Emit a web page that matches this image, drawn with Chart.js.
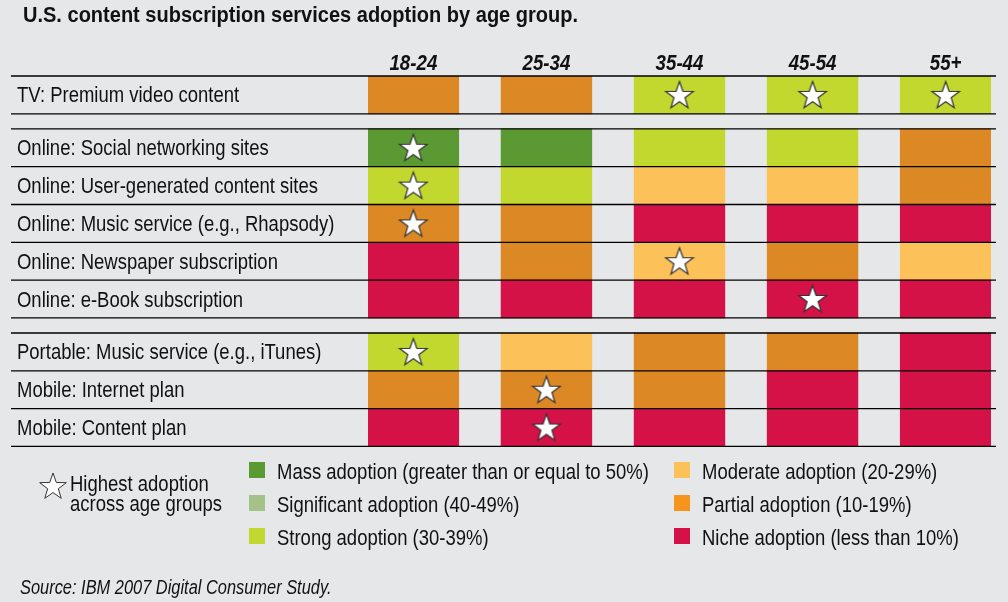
<!DOCTYPE html>
<html>
<head>
<meta charset="utf-8">
<script src="https://cdn.jsdelivr.net/npm/chart.js@4.4.1/dist/chart.umd.min.js"></script>
<style>
    body { margin: 0; background: #e6e7e9; }
    #wrap { position: relative; width: 1008px; height: 602px; overflow: hidden;
            font-family: 'Liberation Sans', Arial, sans-serif; color: #111; }
    #chart { position: absolute; left: 0; top: 0; }
    .txt { position: absolute; white-space: nowrap; font-size: 22px; line-height: 20px;
           transform: scaleX(0.84); transform-origin: 0 0; }
    .sw { position: absolute; width: 16px; height: 16px; }
    #titolo { position: absolute; left: 23px; top: 3px; font-size: 22px; line-height: 24px; font-weight: bold;
              white-space: nowrap; transform: scaleX(0.91); transform-origin: 0 0; }
    #fonte { position: absolute; left: 20px; top: 577px; font-size: 20px; line-height: 20px; font-style: italic;
             white-space: nowrap; transform: scaleX(0.82); transform-origin: 0 0; }
    #stellaLeg { position: absolute; left: 37px; top: 470px; }
</style>
</head>
<body>
<div id="wrap">
    <canvas id="chart" width="1008" height="602"></canvas>
    <div id="titolo">U.S. content subscription services adoption by age group.</div>
    <canvas id="stellaLeg" width="32" height="32"></canvas>
    <div class="txt" style="left:70px; top:474px;">Highest adoption</div>
    <div class="txt" style="left:70px; top:494px;">across age groups</div>
    <div id="legenda"></div>
    <div id="fonte">Source: IBM 2007 Digital Consumer Study.</div>
</div>
<script>
const FONT = "'Liberation Sans', Arial, sans-serif"

// dati
const ageGroups = ['18-24', '25-34', '35-44', '45-54', '55+']

const services = [
    'TV: Premium video content',
    'Online: Social networking sites',
    'Online: User-generated content sites',
    'Online: Music service (e.g., Rhapsody)',
    'Online: Newspaper subscription',
    'Online: e-Book subscription',
    'Portable: Music service (e.g., iTunes)',
    'Mobile: Internet plan',
    'Mobile: Content plan'
]
// blocchi di righe separati da uno spazio
const sections = [0, 1, 1, 1, 1, 1, 2, 2, 2]

// livello di adozione per fascia d'eta (una voce per servizio)
const age1824 = ['partial', 'mass', 'strong', 'partial', 'niche', 'niche', 'strong', 'partial', 'niche']
const age2534 = ['partial', 'mass', 'strong', 'partial', 'partial', 'niche', 'moderate', 'partial', 'niche']
const age3544 = ['strong', 'strong', 'moderate', 'niche', 'moderate', 'niche', 'partial', 'partial', 'niche']
const age4554 = ['strong', 'strong', 'moderate', 'niche', 'partial', 'niche', 'partial', 'niche', 'niche']
const age55 = ['strong', 'partial', 'partial', 'niche', 'moderate', 'niche', 'niche', 'niche', 'niche']
const adoption = [age1824, age2534, age3544, age4554, age55]

// righe con la stella (adozione massima tra le fasce)
const star1824 = [1, 2, 3, 6]
const star2534 = [7, 8]
const star3544 = [0, 4]
const star4554 = [0, 5]
const star55 = [0]
const stars = [star1824, star2534, star3544, star4554, star55]

const levelKeys = ['mass', 'significant', 'strong', 'moderate', 'partial', 'niche']
const levelLabels = [
    'Mass adoption (greater than or equal to 50%)',
    'Significant adoption (40-49%)',
    'Strong adoption (30-39%)',
    'Moderate adoption (20-29%)',
    'Partial adoption (10-19%)',
    'Niche adoption (less than 10%)'
]

// stili
const cellColors = {
    mass: '#5b9a32', significant: '#a5c38b', strong: '#c3d82f',
    moderate: '#fdc15a', partial: '#db8825', niche: '#d41247'
}
const legendColors = {
    mass: '#5b9a32', significant: '#a3c28a', strong: '#c3d82f',
    moderate: '#fdc15a', partial: '#f7941e', niche: '#d41247'
}
const CELL_W = 0.682      // larghezza cella in unita di colonna
const GAP = 0.4           // spazio tra blocchi in unita di riga
const rowPos = services.map((s, r) => r + 0.5 + sections[r] * GAP)
const rowMax = services.length + sections[sections.length - 1] * GAP

// asse lineare con etichette strette (il font originale e' condensato)
class SqueezedLinear extends Chart.LinearScale {
    drawLabels(chartArea) {
        const s = this.options.squeeze || 1
        const dy = this.options.nudge || 0
        const ctx = this.ctx
        for (const item of this.getLabelItems(chartArea)) {
            const o = item.options
            const opts = { ...o, translation: [o.translation[0] / s, o.translation[1]] }
            ctx.save()
            ctx.scale(s, 1)
            Chart.helpers.renderText(ctx, item.label, 0, item.textOffset + dy, item.font, opts)
            ctx.restore()
        }
    }
}
SqueezedLinear.id = 'squeezedLinear'
SqueezedLinear.defaults = Chart.LinearScale.defaults
Chart.register(SqueezedLinear)

function disegnaStella(canvas, r, lw) {
    const ctx = canvas.getContext('2d')
    const cx = canvas.width / 2, cy = canvas.height / 2 + 1
    ctx.beginPath()
    for (let i = 0; i < 10; i++) {
        const rad = i % 2 === 0 ? r : r * 0.4
        const a = -Math.PI / 2 + i * Math.PI / 5
        const px = cx + rad * Math.cos(a), py = cy + rad * Math.sin(a)
        if (i === 0) ctx.moveTo(px, py); else ctx.lineTo(px, py)
    }
    ctx.closePath()
    ctx.fillStyle = '#ffffff'
    ctx.fill()
    ctx.lineWidth = lw
    ctx.strokeStyle = '#333333'
    ctx.stroke()
}

const starImg = document.createElement('canvas')
starImg.width = 32
starImg.height = 32
disegnaStella(starImg, 14.5, 1.2)
disegnaStella(document.getElementById('stellaLeg'), 14, 1)

// legenda colori
const legenda = document.getElementById('legenda')
levelKeys.forEach((k, i) => {
    const col = Math.floor(i / 3), riga = i % 3
    const sx = col === 0 ? 249 : 674
    const sy = 462 + riga * 33
    const sw = document.createElement('div')
    sw.className = 'sw'
    sw.style.left = sx + 'px'
    sw.style.top = sy + 'px'
    sw.style.background = legendColors[k]
    legenda.appendChild(sw)
    const t = document.createElement('div')
    t.className = 'txt'
    t.style.left = (sx + 28) + 'px'
    t.style.top = sy + 'px'
    t.textContent = levelLabels[i]
    legenda.appendChild(t)
})

// linee di separazione tra le righe
const lineePlugin = {
    id: 'linee',
    afterDatasetsDraw(chart) {
        const y = chart.scales.y
        const ctx = chart.ctx
        const bordi = []
        rowPos.forEach(p => { bordi.push(p - 0.5); bordi.push(p + 0.5) })
        ctx.save()
        ctx.strokeStyle = '#000000'
        ctx.lineWidth = 1.3
        ;[...new Set(bordi.map(b => b.toFixed(3)))].forEach(b => {
            const py = y.getPixelForValue(parseFloat(b))
            ctx.beginPath()
            ctx.moveTo(11, py)
            ctx.lineTo(996, py)
            ctx.stroke()
        })
        ctx.restore()
    }
}

const barDatasets = ageGroups.map((g, c) => ({
    label: g,
    data: services.map((s, r) => ({ x: [c, c + CELL_W], y: rowPos[r] })),
    backgroundColor: adoption[c].map(k => cellColors[k]),
    borderWidth: 0,
    grouped: false,
    barPercentage: 1,
    categoryPercentage: 1,
    order: 1
}))

const starDataset = {
    type: 'scatter',
    label: 'Highest adoption across age groups',
    data: stars.flatMap((righe, c) => righe.map(r => ({ x: c + CELL_W / 2, y: rowPos[r] }))),
    pointStyle: starImg,
    order: 0
}

function senzaPadding(ax) {
    ax.paddingTop = 0
    ax.paddingBottom = 0
    ax.paddingLeft = 0
    ax.paddingRight = 0
}

new Chart(document.getElementById('chart'), {
    type: 'bar',
    data: { datasets: [starDataset, ...barDatasets] },
    plugins: [lineePlugin],
    options: {
        responsive: false,
        animation: false,
        indexAxis: 'y',
        layout: { padding: { left: 17, right: 17, top: 46, bottom: 155.6 } },
        plugins: {
            legend: { display: false },
            tooltip: { enabled: false }
        },
        scales: {
            x: {
                type: 'squeezedLinear',
                squeeze: 0.85,
                position: 'top',
                offset: false,
                min: 0,
                max: ageGroups.length - 1 + CELL_W,
                grid: { display: false, drawTicks: false, offset: false },
                border: { display: false },
                afterBuildTicks: (ax) => { ax.ticks = ageGroups.map((g, c) => ({ value: c + CELL_W / 2 })) },
                afterFit: (ax) => { ax.height = 30; senzaPadding(ax) },
                ticks: {
                    autoSkip: false,
                    maxRotation: 0,
                    padding: 1,
                    color: '#111',
                    font: { family: FONT, size: 22, weight: 'bold', style: 'italic', lineHeight: 1 },
                    callback: (v, i) => ageGroups[i]
                }
            },
            y: {
                type: 'squeezedLinear',
                squeeze: 0.84,
                nudge: 1.5,
                reverse: true,
                offset: false,
                min: 0,
                max: rowMax,
                grid: { display: false, drawTicks: false, offset: false },
                border: { display: false },
                afterBuildTicks: (ax) => { ax.ticks = rowPos.map(p => ({ value: p })) },
                afterFit: (ax) => { ax.width = 351; senzaPadding(ax) },
                ticks: {
                    autoSkip: false,
                    crossAlign: 'far',
                    color: '#111',
                    font: { family: FONT, size: 22 },
                    callback: (v, i) => services[i]
                }
            }
        }
    }
})
</script>
</body>
</html>
